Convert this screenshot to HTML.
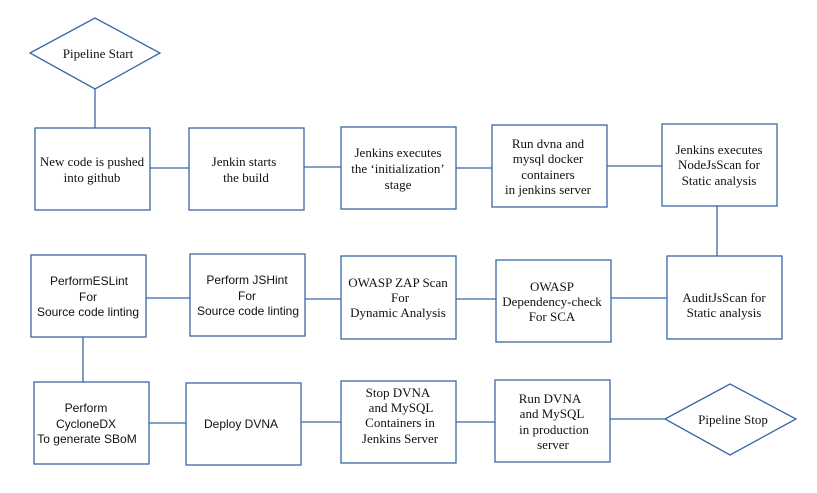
<!DOCTYPE html>
<html><head><meta charset="utf-8"><style>
html,body{margin:0;padding:0;background:#fff;}
svg{display:block}
text{font-family:"Liberation Serif",serif;font-size:13px;fill:#111;text-anchor:middle}
.s{font-family:"Liberation Sans",sans-serif;font-size:12px}
rect,polygon{fill:#fff;stroke:#3a67a6;stroke-width:1.3}
line{stroke:#3a67a6;stroke-width:1.3}
</style></head><body>
<svg width="817" height="493" viewBox="0 0 817 493" xmlns="http://www.w3.org/2000/svg">
<!-- connectors -->
<line x1="95" y1="89" x2="95" y2="128"/>
<line x1="150" y1="168" x2="189" y2="168"/>
<line x1="304" y1="167" x2="341" y2="167"/>
<line x1="456" y1="168" x2="492" y2="168"/>
<line x1="607" y1="166" x2="662" y2="166"/>
<line x1="717" y1="206" x2="717" y2="256"/>
<line x1="146" y1="298" x2="190" y2="298"/>
<line x1="305" y1="299" x2="341" y2="299"/>
<line x1="456" y1="299" x2="496" y2="299"/>
<line x1="611" y1="298" x2="667" y2="298"/>
<line x1="83" y1="337" x2="83" y2="382"/>
<line x1="149" y1="423" x2="186" y2="423"/>
<line x1="301" y1="422" x2="341" y2="422"/>
<line x1="456" y1="422" x2="495" y2="422"/>
<line x1="610" y1="419" x2="665" y2="419"/>

<!-- start diamond -->
<polygon points="30,53 95,18 160,53 95,89"/>
<text x="98" y="58">Pipeline Start</text>

<!-- row 1 -->
<rect x="35" y="128" width="115" height="82"/>
<text x="92" y="166">New code is pushed</text>
<text x="92" y="182">into github</text>
<rect x="189" y="128" width="115" height="82"/>
<text x="244" y="166">Jenkin starts</text>
<text x="246" y="182">the build</text>
<rect x="341" y="127" width="115" height="82"/>
<text x="398" y="157">Jenkins executes</text>
<text x="398" y="173">the ‘initialization’</text>
<text x="398" y="189">stage</text>
<rect x="492" y="125" width="115" height="82"/>
<text x="548" y="148">Run dvna and</text>
<text x="548" y="163">mysql docker</text>
<text x="548" y="179">containers</text>
<text x="548" y="194">in jenkins server</text>
<rect x="662" y="124" width="115" height="82"/>
<text x="719" y="154">Jenkins executes</text>
<text x="719" y="169">NodeJsScan for</text>
<text x="719" y="185">Static analysis</text>

<!-- row 2 -->
<rect x="31" y="255" width="115" height="82"/>
<text class="s" x="89" y="285">PerformESLint</text>
<text class="s" x="88" y="301">For</text>
<text class="s" x="88" y="316">Source code linting</text>
<rect x="190" y="254" width="115" height="82"/>
<text class="s" x="247" y="284">Perform JSHint</text>
<text class="s" x="247" y="300">For</text>
<text class="s" x="248" y="315">Source code linting</text>
<rect x="341" y="256" width="115" height="83"/>
<text x="398" y="287">OWASP ZAP Scan</text>
<text x="400" y="302">For</text>
<text x="398" y="317">Dynamic Analysis</text>
<rect x="496" y="260" width="115" height="82"/>
<text x="552" y="291">OWASP</text>
<text x="552" y="306">Dependency-check</text>
<text x="552" y="321">For SCA</text>
<rect x="667" y="256" width="115" height="83"/>
<text x="724" y="302">AuditJsScan for</text>
<text x="724" y="317">Static analysis</text>

<!-- row 3 -->
<rect x="34" y="382" width="115" height="82"/>
<text class="s" x="86" y="412">Perform</text>
<text class="s" x="86" y="428">CycloneDX</text>
<text class="s" x="87" y="443">To generate SBoM</text>
<rect x="186" y="383" width="115" height="82"/>
<text class="s" x="241" y="428">Deploy DVNA</text>
<rect x="341" y="381" width="115" height="82"/>
<text x="398" y="397">Stop DVNA</text>
<text x="401" y="412">and MySQL</text>
<text x="400" y="427">Containers in</text>
<text x="400" y="443">Jenkins Server</text>
<rect x="495" y="380" width="115" height="82"/>
<text x="550" y="403">Run DVNA</text>
<text x="552" y="418">and MySQL</text>
<text x="554" y="434">in production</text>
<text x="553" y="449">server</text>

<!-- stop diamond -->
<polygon points="665,419 730,384 796,419 730,455"/>
<text x="733" y="424">Pipeline Stop</text>
</svg>
</body></html>
